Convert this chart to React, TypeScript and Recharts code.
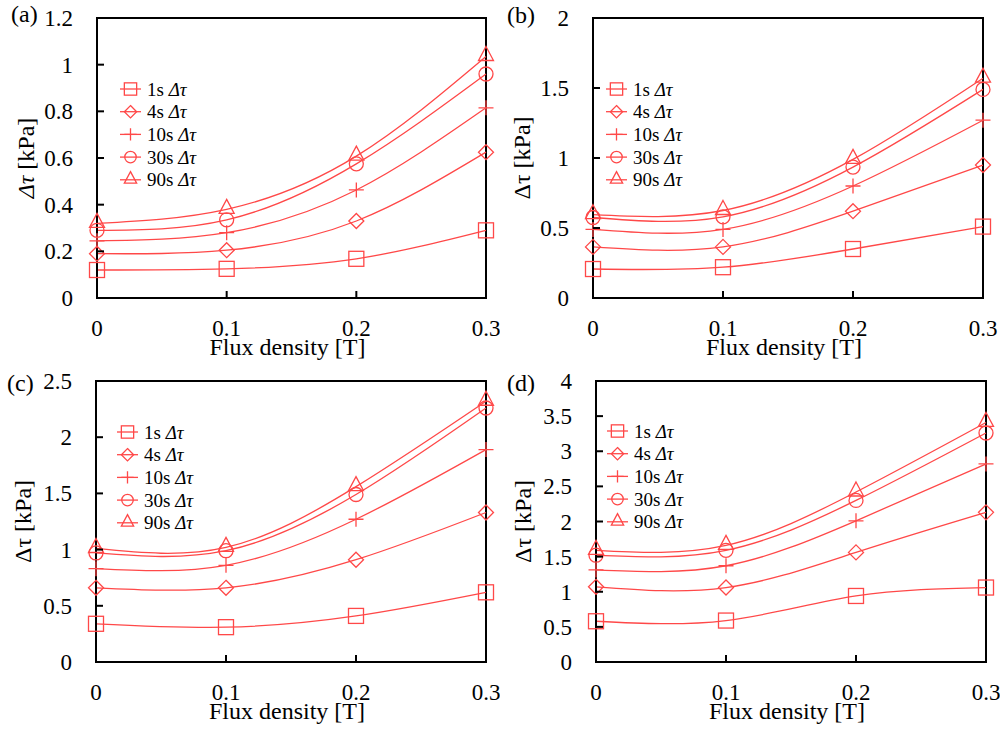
import React from 'react';
import { LineChart, Line, XAxis, YAxis, Legend, ReferenceArea } from 'recharts';

// flux density [T]
const flux = [0, 0.1, 0.2, 0.3];
const seriesNames = ['1s', '4s', '10s', '30s', '90s'];

// (a)
const a1 = [0.12, 0.125, 0.168, 0.29];
const a4 = [0.19, 0.205, 0.33, 0.625];
const a10 = [0.245, 0.28, 0.463, 0.815];
const a30 = [0.29, 0.335, 0.575, 0.96];
const a90 = [0.32, 0.38, 0.608, 1.035];

// (b)
const b1 = [0.207, 0.22, 0.35, 0.51];
const b4 = [0.365, 0.365, 0.62, 0.95];
const b10 = [0.49, 0.49, 0.8, 1.27];
const b30 = [0.575, 0.58, 0.935, 1.49];
const b90 = [0.595, 0.625, 0.99, 1.57];

// (c)
const c1 = [0.34, 0.31, 0.41, 0.62];
const c4 = [0.66, 0.66, 0.91, 1.33];
const c10 = [0.83, 0.86, 1.27, 1.89];
const c30 = [0.97, 0.99, 1.49, 2.26];
const c90 = [1.01, 1.02, 1.56, 2.32];

// (d)
const d1 = [0.58, 0.59, 0.94, 1.06];
const d4 = [1.07, 1.06, 1.56, 2.13];
const d10 = [1.31, 1.37, 2.01, 2.82];
const d30 = [1.52, 1.59, 2.3, 3.26];
const d90 = [1.59, 1.66, 2.42, 3.41];

const yTicksA = [0, 0.2, 0.4, 0.6, 0.8, 1, 1.2];
const yTicksB = [0, 0.5, 1, 1.5, 2];
const yTicksC = [0, 0.5, 1, 1.5, 2, 2.5];
const yTicksD = [0, 0.5, 1, 1.5, 2, 2.5, 3, 3.5, 4];

const RED = '#ff4848';
const FONT = '"Liberation Serif", "Times New Roman", serif';

type Kind = 'square' | 'diamond' | 'plus' | 'circle' | 'triangle';
const kinds: Kind[] = ['square', 'diamond', 'plus', 'circle', 'triangle'];

const Marker = ({ kind, cx, cy, s = 1 }: { kind: Kind; cx: number; cy: number; s?: number }) => {
  const st = { fill: 'none', stroke: RED, strokeWidth: 1.3 };
  const h = 7.5 * s;
  if (kind === 'square') return <rect x={cx - h} y={cy - h} width={2 * h} height={2 * h} {...st} />;
  if (kind === 'diamond')
    return <path d={`M${cx},${cy - h}L${cx + h},${cy}L${cx},${cy + h}L${cx - h},${cy}Z`} {...st} />;
  if (kind === 'plus') return <path d={`M${cx - h},${cy}H${cx + h}M${cx},${cy - h}V${cy + h}`} {...st} />;
  if (kind === 'circle') return <circle cx={cx} cy={cy} r={7 * s} {...st} />;
  return <path d={`M${cx},${cy - 10 * s}L${cx + 7.5 * s},${cy + 4 * s}L${cx - 7.5 * s},${cy + 4 * s}Z`} {...st} />;
};

const XTick = (props: any) => {
  const { x, y, payload } = props;
  return (
    <g>
      <line x1={x} y1={y} x2={x} y2={y - 7} stroke="#000" strokeWidth={2} />
      <text x={x} y={y + 38} textAnchor="middle" fontFamily={FONT} fontSize={23} fill="#000">
        {String(payload.value)}
      </text>
    </g>
  );
};

const YTick = (props: any) => {
  const { x, y, payload } = props;
  return (
    <g>
      <line x1={x} y1={y} x2={x + 7} y2={y} stroke="#000" strokeWidth={2} />
      <text x={x - 24} y={y} dy="0.35em" textAnchor="end" fontFamily={FONT} fontSize={23} fill="#000">
        {String(payload.value)}
      </text>
    </g>
  );
};

const LegendBox = () => (
  <svg width={140} height={120} style={{ display: 'block' }}>
    {seriesNames.map((n, i) => {
      const cy = 11 + i * 22.7;
      return (
        <g key={n}>
          <line x1={0} y1={cy} x2={21} y2={cy} stroke={RED} strokeWidth={1.3} />
          <Marker kind={kinds[i]} cx={10.5} cy={cy} s={0.82} />
          <text x={27} y={cy + 6.5} fontFamily={FONT} fontSize={19} fill="#000">
            {n + ' '}
            <tspan fontStyle="italic">Δτ</tspan>
          </text>
        </g>
      );
    })}
  </svg>
);

type PanelProps = {
  values: number[][];
  yTicks: number[];
  left: number;
  top: number;
  PL: number;
  PR: number;
  PB: number;
  letter: string;
  letterX: number;
  letterY: number;
  yLabelX: number;
  italicY: boolean;
  legX: number;
  legY: number;
};

const W = 500;
const H = 370;
const PT = 18;

const Panel = (p: PanelProps) => {
  const data = flux.map((x, i) => {
    const row: any = { x };
    p.values.forEach((v, k) => (row['s' + k] = v[i]));
    return row;
  });
  const yMax = p.yTicks[p.yTicks.length - 1];
  const midY = (PT + p.PB) / 2;
  return (
    <div style={{ position: 'absolute', left: p.left, top: p.top, width: W, height: H }}>
      <LineChart
        width={W}
        height={H}
        data={data}
        margin={{ top: PT, bottom: H - p.PB - 30, left: p.PL - 60, right: W - p.PR }}
      >
        <ReferenceArea x1={0} x2={0.3} y1={0} y2={yMax} fill="none" stroke="#000" strokeWidth={2} ifOverflow="visible" />
        <XAxis
          dataKey="x"
          type="number"
          domain={[0, 0.3]}
          ticks={flux}
          height={30}
          tickSize={0}
          tickMargin={0}
          tick={XTick}
          axisLine={{ stroke: '#000', strokeWidth: 2 }}
          label={{
            content: () => (
              <text x={(p.PL + p.PR) / 2 - 4} y={p.PB + 57} textAnchor="middle" fontFamily={FONT} fontSize={24} fill="#000">
                Flux density [T]
              </text>
            ),
          }}
        />
        <YAxis
          type="number"
          domain={[0, yMax]}
          ticks={p.yTicks}
          width={60}
          tickSize={0}
          tickMargin={0}
          tick={YTick}
          allowDataOverflow
          axisLine={{ stroke: '#000', strokeWidth: 2 }}
          label={{
            content: () => (
              <text
                x={p.yLabelX}
                y={midY}
                dy="0.35em"
                transform={`rotate(-90, ${p.yLabelX}, ${midY})`}
                textAnchor="middle"
                fontFamily={FONT}
                fontSize={24}
                fill="#000"
              >
                {p.italicY ? <tspan fontStyle="italic">Δτ</tspan> : 'Δτ'}
                {' [kPa]'}
              </text>
            ),
          }}
        />
        {seriesNames.map((n, k) => (
          <Line
            key={n}
            name={n}
            dataKey={'s' + k}
            type="natural"
            stroke={RED}
            strokeWidth={1.3}
            isAnimationActive={false}
            activeDot={false}
            dot={(d: any) => <Marker key={n + d.index} kind={kinds[k]} cx={d.cx} cy={d.cy} />}
          />
        ))}
        <Legend
          layout="horizontal"
          verticalAlign="middle"
          align="center"
          wrapperStyle={{ left: p.legX, top: p.legY - 11, width: 'auto' }}
          content={() => <LegendBox />}
        />
      </LineChart>
      <div
        style={{
          position: 'absolute',
          left: p.letterX,
          top: p.letterY - 13,
          fontFamily: FONT,
          fontSize: 24,
          lineHeight: '26px',
          color: '#000',
        }}
      >
        {p.letter}
      </div>
    </div>
  );
};

const App = () => (
  <div style={{ position: 'absolute', left: 0, top: 0, width: 1007, height: 735, background: '#fff' }}>
    <Panel values={[a1, a4, a10, a30, a90]} yTicks={yTicksA} left={0} top={0} PL={97} PR={486} PB={298}
      letter="(a)" letterX={11} letterY={14} yLabelX={26} italicY legX={120} legY={89} />
    <Panel values={[b1, b4, b10, b30, b90]} yTicks={yTicksB} left={500} top={0} PL={93} PR={483} PB={298}
      letter="(b)" letterX={7} letterY={15} yLabelX={22} italicY={false} legX={106} legY={89} />
    <Panel values={[c1, c4, c10, c30, c90]} yTicks={yTicksC} left={0} top={363} PL={96} PR={486} PB={299}
      letter="(c)" letterX={7} letterY={20} yLabelX={23} italicY={false} legX={117} legY={69} />
    <Panel values={[d1, d4, d10, d30, d90]} yTicks={yTicksD} left={500} top={363} PL={96} PR={486} PB={299}
      letter="(d)" letterX={7} letterY={20} yLabelX={23} italicY={false} legX={107} legY={68} />
  </div>
);

export default App;
